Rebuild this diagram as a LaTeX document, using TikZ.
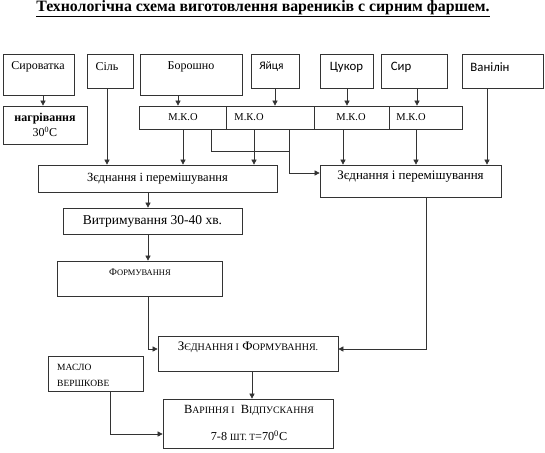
\documentclass[tikz,border=0pt]{standalone}
\usepackage{fontspec}
\setmainfont{Liberation Serif}
\newfontfamily\calfont{Carlito}
\usetikzlibrary{arrows.meta}

% small caps made by hand
\newcommand{\scsize}{8.5}
\newcommand{\smc}[2]{#1{\fontsize{\scsize}{10}\selectfont #2}}

\tikzset{
  blk/.style={draw=black!80, line width=0.7pt, inner sep=0pt},
  txt/.style={inner sep=0pt, font=\fontsize{12}{14}\selectfont},
  mko/.style={txt, font=\fontsize{10.5}{12}\selectfont},
  arr/.style={draw=black!80, line width=0.6pt, -{Triangle[length=5pt,width=5pt]}},
  ln/.style={draw=black!80, line width=0.6pt}
}

\begin{document}
\begin{tikzpicture}[x=1pt, y=-1pt]
\useasboundingbox (0,0) rectangle (545,452);

\node[txt, font=\fontsize{15.8}{18}\selectfont\bfseries] (title) at (263,9)
  {\underline{Технологічна схема виготовлення вареників с сирним фаршем.}};

% top row
\node[blk, minimum width=71pt, minimum height=41pt] (syr) at (38.5,74.5) {};
\node[txt] (syr-t) at (38,67) {Сироватка};
\node[blk, minimum width=46pt, minimum height=34pt] (sil) at (110,71) {};
\node[txt] (sil-t) at (107,67) {Сіль};
\node[blk, minimum width=102pt, minimum height=41pt] (bor) at (191,74.5) {};
\node[txt] (bor-t) at (191,67) {Борошно};
\node[blk, minimum width=48pt, minimum height=34pt] (yay) at (275,71) {};
\node[txt, font=\calfont\fontsize{11.5}{13}\selectfont] (yay-t) at (271.5,67) {Яйця};
\node[blk, minimum width=53pt, minimum height=34pt] (cuk) at (346.5,71) {};
\node[txt, font=\calfont\fontsize{12.8}{14}\selectfont] (cuk-t) at (346.5,67) {Цукор};
\node[blk, minimum width=66pt, minimum height=34pt] (sir) at (414,71) {};
\node[txt, font=\calfont\fontsize{12.8}{14}\selectfont] (sir-t) at (401,67) {Сир};
\node[blk, minimum width=81pt, minimum height=34pt] (van) at (502.5,71) {};
\node[txt, font=\calfont\fontsize{12.8}{14}\selectfont] (van-t) at (490,67) {Ванілін};

% heating
\node[blk, minimum width=84pt, minimum height=38pt] (nag) at (45,125) {};
\node[txt, align=center, font=\fontsize{12}{15}\selectfont\bfseries] (nag-t) at (45,125)
  {нагрівання\\\mdseries 30\textsuperscript{0}С};

% m.k.o row
\node[blk, minimum width=87pt, minimum height=23pt] (mko1) at (182.5,117.5) {};
\node[mko] (mko1-t) at (183,117.5) {М.К.О};
\node[blk, minimum width=88pt, minimum height=23pt] (mko2) at (270,117.5) {};
\node[mko] (mko2-t) at (249,117.5) {М.К.О};
\node[blk, minimum width=75pt, minimum height=23pt] (mko3) at (351.5,117.5) {};
\node[mko] (mko3-t) at (351,117.5) {М.К.О};
\node[blk, minimum width=73pt, minimum height=23pt] (mko4) at (425.5,117.5) {};
\node[mko] (mko4-t) at (411,117.5) {М.К.О};

% mixing
\node[blk, txt, draw, font=\fontsize{12.5}{14}\selectfont, minimum width=239pt, minimum height=27pt] (lmix) at (157.5,178.5) {Зєднання і перемішування};
\node[blk, minimum width=181pt, minimum height=32pt] (rmix) at (410.5,181) {};
\node[txt, font=\fontsize{13}{15}\selectfont] (rmix-t) at (410.5,177) {Зєднання і перемішування};

\node[blk, txt, draw, font=\fontsize{13.5}{15}\selectfont, minimum width=179pt, minimum height=26pt] (vit) at (152.5,221) {Витримування 30-40 хв.};
\node[blk, minimum width=165pt, minimum height=35pt] (frm) at (139.5,278.5) {};
\node[txt, font=\fontsize{10}{12}\selectfont] (frm-t) at (140,272) {\smc{Ф}{ОРМУВАННЯ}};

\node[blk, minimum width=180pt, minimum height=35pt] (zf) at (248,353.5) {};
\node[txt, font=\fontsize{13}{15}\selectfont\renewcommand{\scsize}{10}] (zf-t) at (248,347) {\smc{З}{ЄДНАННЯ І} \smc{Ф}{ОРМУВАННЯ.}};

\node[blk, minimum width=95pt, minimum height=35pt] (mas) at (95.5,373.5) {};
\node[txt, align=left, anchor=west, font=\fontsize{9.5}{16}\selectfont] (mas-t) at (57,375) {МАСЛО\\ВЕРШКОВЕ};

\node[blk, minimum width=170pt, minimum height=49pt] (var) at (248,423.5) {};
\node[txt, font=\fontsize{12.5}{15}\selectfont\renewcommand{\scsize}{9.8}] (var-t1) at (249,410) {\smc{В}{АРІННЯ І} \ \smc{В}{ІДПУСКАННЯ}};
\node[txt, font=\fontsize{12.2}{15}\selectfont\renewcommand{\scsize}{9.5}] (var-t2) at (249,436) {7-8 \smc{}{ШТ. Т}=70\textsuperscript{0}С};

% connectors
\draw[arr] (syr.south -| 43,0) -- (nag.north -| 43,0);
\draw[arr] (sil.south -| 107,0) -- (lmix.north -| 107,0);
\draw[arr] (bor.south -| 178,0) -- (mko1.north -| 178,0);
\draw[arr] (yay.south -| 275,0) -- (mko2.north -| 275,0);
\draw[arr] (cuk.south -| 347,0) -- (mko3.north -| 347,0);
\draw[arr] (sir.south -| 417,0) -- (mko4.north -| 417,0);
\draw[arr] (van.south -| 487,0) -- (rmix.north -| 487,0);
\draw[arr] (mko1.south -| 183,0) -- (lmix.north -| 183,0);
\draw[arr] (mko2.south -| 254,0) -- (lmix.north -| 254,0);
\draw[ln] (mko1.south -| 211,0) -- (211,151) -- (289,151);
\draw[arr] (mko2.south -| 289,0) -- (289,173) -- (rmix.west |- 0,173);
\draw[arr] (mko3.south -| 343,0) -- (rmix.north -| 343,0);
\draw[arr] (mko4.south -| 416,0) -- (rmix.north -| 416,0);
\draw[arr] (lmix.south -| 148,0) -- (vit.north -| 148,0);
\draw[arr] (vit.south -| 148,0) -- (frm.north -| 148,0);
\draw[arr] (frm.south -| 148,0) -- (148,349) -- (zf.west |- 0,349);
\draw[arr] (rmix.south -| 426,0) -- (426,349) -- (zf.east |- 0,349);
\draw[arr] (zf.south -| 252,0) -- (var.north -| 252,0);
\draw[arr] (mas.south -| 110,0) -- (110,434) -- (var.west |- 0,434);
\end{tikzpicture}
\end{document}
